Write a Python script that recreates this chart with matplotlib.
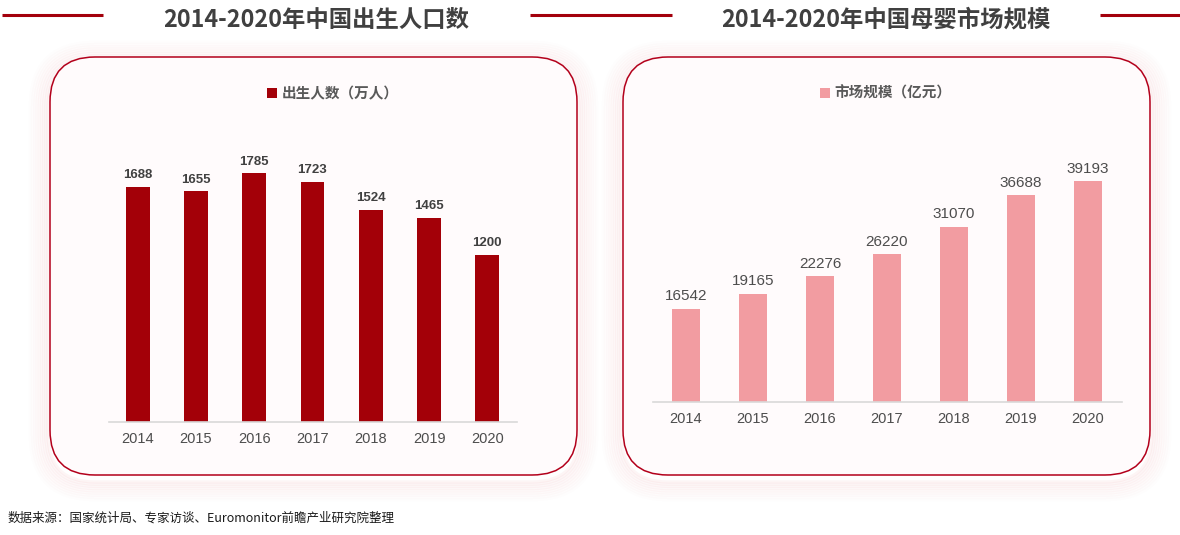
import matplotlib
matplotlib.use("Agg")
import matplotlib.pyplot as plt
from matplotlib.patches import FancyBboxPatch

plt.rcParams["font.family"] = ["Noto Sans CJK SC", "DejaVu Sans"]

years = ["2014", "2015", "2016", "2017", "2018", "2019", "2020"]
births = [1688, 1655, 1785, 1723, 1524, 1465, 1200]
market = [16542, 19165, 22276, 26220, 31070, 36688, 39193]

title_left = "2014-2020年中国出生人口数"
title_right = "2014-2020年中国母婴市场规模"
legend_left = "出生人数（万人）"
legend_right = "市场规模（亿元）"
source = "数据来源：国家统计局、专家访谈、Euromonitor前瞻产业研究院整理"

DARK_RED = "#a30008"
PINK = "#f29ca1"
NUM_FONT = ["Liberation Sans", "Noto Sans CJK SC"]
W, H = 1180, 535


def fx(px):
    return px / W


def fy(py):
    return 1 - py / H


fig = plt.figure(figsize=(11.8, 5.35), dpi=100)
fig.patch.set_facecolor("white")

# background layer in pixel coordinates
bg = fig.add_axes([0, 0, 1, 1])
bg.set_xlim(0, W)
bg.set_ylim(H, 0)
bg.axis("off")

for x0 in (50, 623):
    # soft glow
    for i in range(9):
        pad = 2 + i * 2.2
        glow = FancyBboxPatch((x0, 57 + 5), 527, 418, boxstyle=f"round,pad={pad},rounding_size={45 + pad}",
                              facecolor="none", edgecolor="#f2aeb4", lw=2.4, alpha=0.12 - i * 0.012)
        bg.add_patch(glow)
    box = FancyBboxPatch((x0, 57), 527, 418, boxstyle="round,pad=0,rounding_size=45",
                         facecolor="#fffbfc", edgecolor="#b3001b", lw=1.1)
    bg.add_patch(box)

# title rules
for xa, xb in ((2, 103), (530, 672), (1100, 1180)):
    bg.plot([xa, xb], [14.5, 14.5], color="#a3000c", lw=2.2, solid_capstyle="butt")

fig.text(fx(316), fy(20), title_left, ha="center", va="center", fontsize=16.8,
         fontweight="bold", color="#404040")
fig.text(fx(886), fy(20), title_right, ha="center", va="center", fontsize=16.8,
         fontweight="bold", color="#404040")
fig.text(fx(8), fy(518), source, ha="left", va="center", fontsize=9, color="#1a1a1a")


def bar_panel(rect, values, color, width, ymax, label, legend_x, bold_vals, val_size):
    ax = fig.add_axes(rect)
    ax.set_facecolor("none")
    xs = range(len(years))
    bars = ax.bar(xs, values, width=width, color=color, label=label, zorder=2)
    ax.set_xlim(-0.5, len(years) - 0.5)
    ax.set_ylim(0, ymax)
    ax.set_xticks(list(xs))
    ax.set_xticklabels(years, fontsize=10.5, color="#4d4d4d", family=NUM_FONT)
    ax.tick_params(axis="x", length=0, pad=7)
    ax.set_yticks([])
    for s in ("top", "left", "right"):
        ax.spines[s].set_visible(False)
    ax.spines["bottom"].set_color("#d9d9d9")
    ax.spines["bottom"].set_linewidth(1.2)
    for b, v in zip(bars, values):
        ax.annotate(str(v), (b.get_x() + b.get_width() / 2, v), xytext=(0, 4),
                    textcoords="offset points", ha="center", va="bottom",
                    fontsize=val_size, color="#404040" if bold_vals else "#4d4d4d",
                    fontweight="bold" if bold_vals else "normal", family=NUM_FONT)
    ax.legend(loc="center", bbox_to_anchor=(fx(legend_x), fy(93)),
              bbox_transform=fig.transFigure, frameon=False, handlelength=0.7,
              handleheight=0.7, handletextpad=0.3,
              prop={"size": 10.5, "weight": "bold"}, labelcolor="#595959")
    return ax


bar_panel([fx(108.5), fy(422), fx(408), (422 - 150) / H], births, DARK_RED, 0.41,
          272 / 0.1394, legend_left, 333, True, 9.5)
bar_panel([fx(652.5), fy(402), fx(469), (402 - 150) / H], market, PINK, 0.42,
          252 / 0.005635, legend_right, 886, False, 11)

fig.savefig("out.png", dpi=100)
